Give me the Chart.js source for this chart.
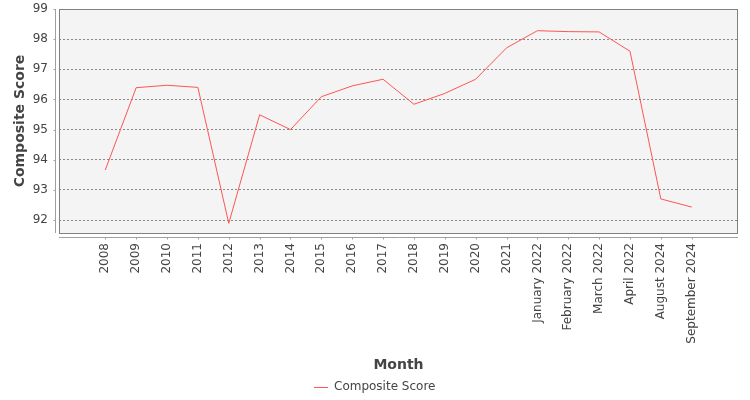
<!DOCTYPE html>
<html>
<head>
<meta charset="utf-8">
<script src="https://cdn.jsdelivr.net/npm/chart.js@4/dist/chart.umd.min.js"></script>
<style>
  html, body { margin: 0; padding: 0; background: #ffffff; }
  #wrap { width: 750px; height: 400px; }
</style>
</head>
<body>
<div id="wrap"><canvas id="c" width="750" height="400"></canvas></div>
<script>
const categories = ['2008','2009','2010','2011','2012','2013','2014','2015','2016','2017','2018','2019','2020','2021','January 2022','February 2022','March 2022','April 2022','August 2024','September 2024'];
const compositeScore = [93.66, 96.39, 96.47, 96.40, 91.89, 95.49, 95.00, 96.09, 96.45, 96.67, 95.84, 96.20, 96.67, 97.71, 98.28, 98.25, 98.24, 97.60, 92.70, 92.43];
const yTickValues = [92, 93, 94, 95, 96, 97, 98, 99];
const seriesName = 'Composite Score';
const xTitle = 'Month';
const yTitle = 'Composite Score';

const FONT = "'DejaVu Sans', sans-serif";
const TEXT = '#444444';

const plotDecor = {
  id: 'plotDecor',
  beforeDraw(chart) {
    const {ctx, chartArea: a} = chart;
    ctx.save();
    ctx.fillStyle = '#f4f4f4';
    ctx.fillRect(a.left, a.top, a.right - a.left, a.bottom - a.top);
    ctx.restore();
  },
  afterDraw(chart) {
    const {ctx, chartArea: a, scales} = chart;
    ctx.save();
    ctx.lineWidth = 1;
    ctx.strokeStyle = '#808080';
    ctx.strokeRect(Math.round(a.left) + 0.5, Math.round(a.top) + 0.5, Math.round(a.right - a.left) - 1, Math.round(a.bottom - a.top));
    ctx.strokeStyle = '#a0a0a0';
    const yx = Math.round(a.left) - 4 + 0.5;
    ctx.beginPath();
    ctx.moveTo(yx, a.top);
    ctx.lineTo(yx, a.bottom);
    scales.y.ticks.forEach(t => {
      const py = Math.round(scales.y.getPixelForValue(t.value)) + 0.5;
      ctx.moveTo(yx - 2, py);
      ctx.lineTo(yx, py);
    });
    ctx.stroke();
    const xy = Math.round(a.bottom) + 4 + 0.5;
    ctx.beginPath();
    ctx.moveTo(a.left, xy);
    ctx.lineTo(a.right, xy);
    scales.x.ticks.forEach(t => {
      const px = Math.round(scales.x.getPixelForValue(t.value)) + 0.5;
      ctx.moveTo(px, xy);
      ctx.lineTo(px, xy + 2);
    });
    ctx.stroke();

    // legend
    const ds = chart.data.datasets[0];
    ctx.font = '12px ' + FONT;
    const tw = ctx.measureText(ds.label).width;
    const lineLen = 14, gap = 6;
    const total = lineLen + gap + tw;
    const lx = Math.round(chart.width / 2 - total / 2);
    const ly = 387;
    ctx.strokeStyle = ds.borderColor;
    ctx.lineWidth = 1;
    ctx.beginPath();
    ctx.moveTo(lx, ly + 0.5);
    ctx.lineTo(lx + lineLen, ly + 0.5);
    ctx.stroke();
    ctx.fillStyle = TEXT;
    ctx.textBaseline = 'middle';
    ctx.textAlign = 'left';
    ctx.fillText(ds.label, lx + lineLen + gap, ly);
    ctx.restore();
  }
};

new Chart(document.getElementById('c'), {
  type: 'line',
  data: {
    datasets: [{
      label: seriesName,
      data: compositeScore.map((v, i) => ({x: i, y: v})),
      borderColor: '#ff5555',
      backgroundColor: '#ff5555',
      borderWidth: 1,
      pointRadius: 0,
      tension: 0,
      fill: false
    }]
  },
  options: {
    responsive: false,
    animation: false,
    devicePixelRatio: 1,
    layout: { padding: { left: 0, top: 9, right: 12, bottom: 26 } },
    plugins: {
      tooltip: { enabled: false },
      legend: { display: false }
    },
    scales: {
      x: {
        type: 'linear',
        min: -1.5,
        max: 20.5,
        afterBuildTicks(scale) {
          scale.ticks = categories.map((c, i) => ({ value: i }));
        },
        afterFit(scale) {
          scale.height = 141;
          scale.paddingLeft = 0;
          scale.paddingRight = 0;
        },
        grid: { display: false, drawTicks: false },
        border: { display: false },
        ticks: {
          autoSkip: false,
          maxRotation: 90,
          minRotation: 90,
          padding: 10,
          color: TEXT,
          font: { family: FONT, size: 12 },
          callback: (v) => categories[v]
        },
        title: {
          display: true,
          text: xTitle,
          color: TEXT,
          font: { family: FONT, size: 14, weight: 'bold' },
          padding: { top: 0, bottom: 0 }
        }
      },
      y: {
        min: 91.57,
        max: 99,
        afterBuildTicks(scale) {
          scale.ticks = yTickValues.map(v => ({ value: v }));
        },
        afterFit(scale) {
          scale.width = 59;
          scale.paddingTop = 0;
          scale.paddingBottom = 0;
        },
        grid: { color: '#888888', lineWidth: 1, drawTicks: false },
        border: { display: false, dash: [2, 2] },
        ticks: {
          padding: 11,
          color: TEXT,
          font: { family: FONT, size: 12 }
        },
        title: {
          display: true,
          text: yTitle,
          color: TEXT,
          font: { family: FONT, size: 14, weight: 'bold' },
          padding: { top: 12, bottom: 0 }
        }
      }
    }
  },
  plugins: [plotDecor]
});
</script>
</body>
</html>
